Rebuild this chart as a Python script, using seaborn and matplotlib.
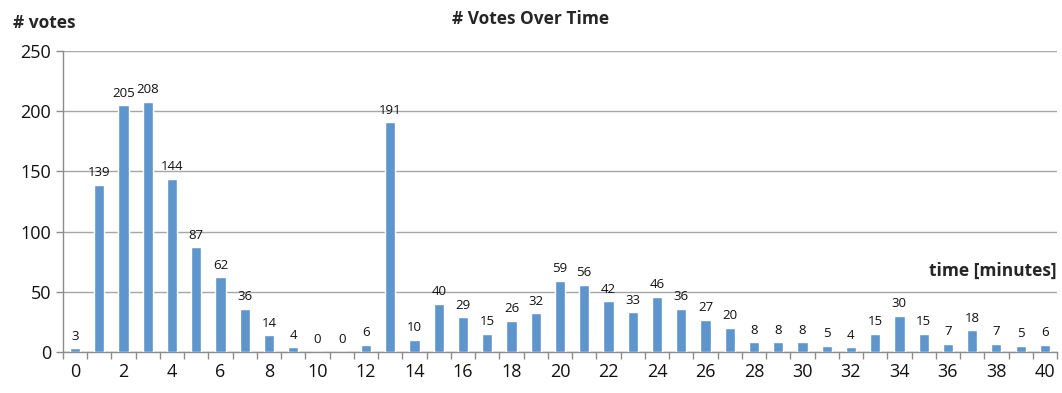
import matplotlib
matplotlib.use("Agg")
import matplotlib.pyplot as plt
import seaborn as sns
import pandas as pd
import numpy as np

minutes = list(range(41))
votes = [3, 139, 205, 208, 144, 87, 62, 36, 14, 4, 0, 0, 6, 191, 10, 40, 29, 15, 26, 32,
         59, 56, 42, 33, 46, 36, 27, 20, 8, 8, 8, 5, 4, 15, 30, 15, 7, 18, 7, 5, 6]
tick_labels = [str(m) for m in minutes if m % 2 == 0]

sns.set_theme(style="white")
plt.rcParams['font.family'] = ['Open Sans', 'DejaVu Sans']

df = pd.DataFrame({"minute": minutes, "votes": votes})

fig = plt.figure(figsize=(10.62, 3.93), dpi=100)
ax = fig.add_axes([0.0593, 0.1043, 0.9360, 0.7657])

sns.barplot(data=df, x="minute", y="votes", order=minutes, color="#5E95CD",
            width=0.42, saturation=1, ax=ax, zorder=3)

for c in ax.containers:
    ax.bar_label(c, labels=[str(v) for v in votes], padding=4, fontsize=9.5, color="#111111")

ax.set_xlim(-0.5, 40.5)
ax.set_ylim(0, 250)
ax.set_yticks([0, 50, 100, 150, 200, 250])
ax.yaxis.grid(True, color="#A6A6A6", linewidth=1, zorder=0)
ax.set_axisbelow(True)

ax.set_xticks([m for m in minutes if m % 2 == 0])
ax.set_xticklabels(tick_labels)
ax.set_xticks(np.arange(-0.5, 41, 1), minor=True)
ax.tick_params(axis="x", which="major", length=0, labelsize=13, pad=8, colors="#111111")
ax.tick_params(axis="x", which="minor", length=5, color="#8C8C8C", bottom=True, width=1)
ax.tick_params(axis="y", which="major", length=5, color="#8C8C8C", left=True, labelsize=13,
               width=1)
ax.tick_params(axis="y", colors="#8C8C8C", labelcolor="#111111")

for s in ["top", "right"]:
    ax.spines[s].set_visible(False)
for s in ["left", "bottom"]:
    ax.spines[s].set_color("#8C8C8C")
    ax.spines[s].set_linewidth(1)

ax.set_xlabel("")
ax.set_ylabel("")

fig.text(0.5, 0.952, "# Votes Over Time", ha="center", va="center", fontsize=12.5, fontweight="bold")
fig.text(0.012, 0.942, "# votes", ha="left", va="center", fontsize=12.5, fontweight="bold")
ax.text(1.0, 60, "time [minutes]", transform=ax.get_yaxis_transform(), ha="right", va="bottom",
        fontsize=12.5, fontweight="bold")

fig.savefig("out.png", dpi=100)
